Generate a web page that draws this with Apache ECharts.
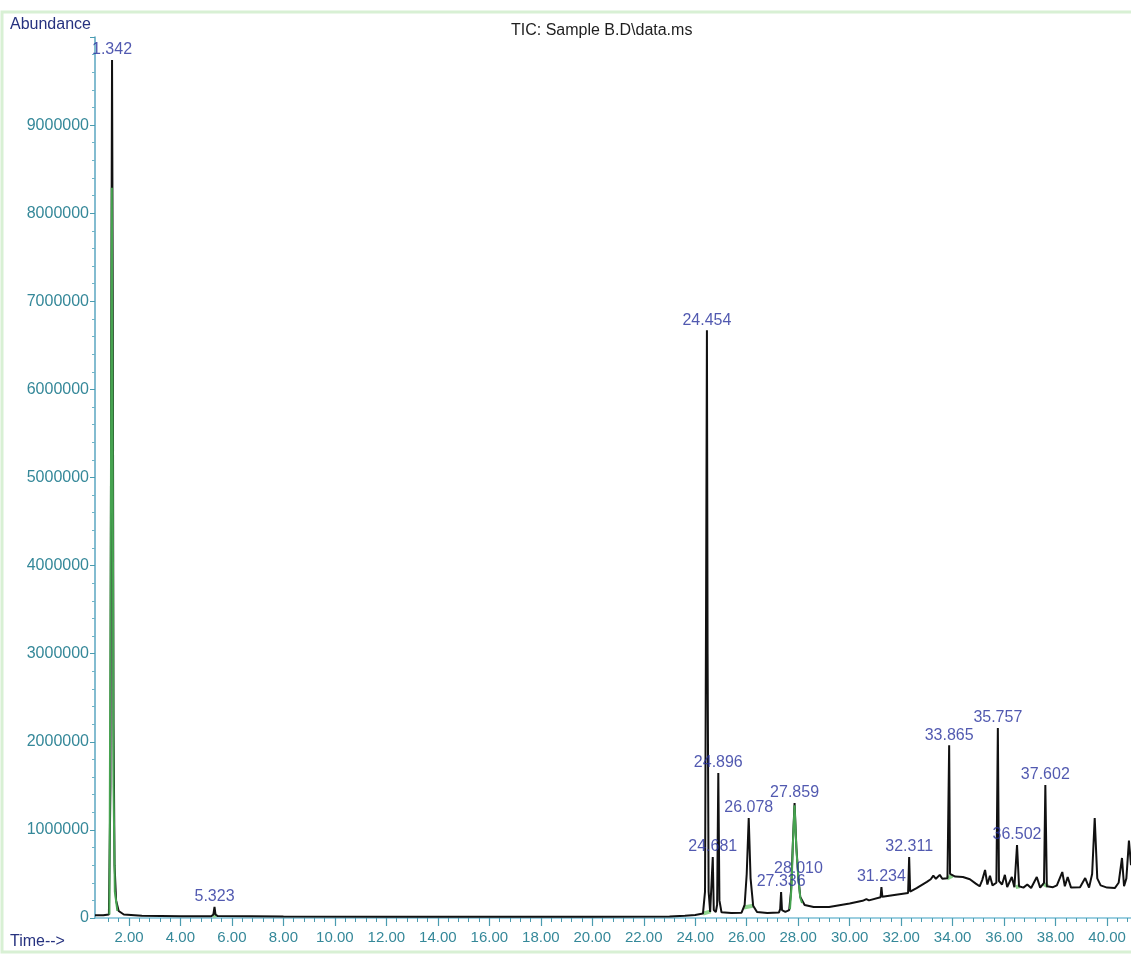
<!DOCTYPE html>
<html>
<head>
<meta charset="utf-8">
<script src="https://cdn.jsdelivr.net/npm/echarts@6/dist/echarts.min.js"></script>
<style>
html,body{margin:0;padding:0;background:#fff;}
#c{width:1131px;height:954px;}
</style>
</head>
<body>
<div id="c"></div>
<script>
// ---- data ----
var ticTrace = [
[0.68,30000],[1.00,30000],[1.22,40000],[1.28,1500000],[1.31,6500000],[1.342,9740000],
[1.37,7000000],[1.40,2200000],[1.44,600000],[1.50,200000],[1.60,80000],[1.80,40000],
[2.50,25000],[4.00,20000],[5.20,20000],[5.28,40000],[5.323,125000],[5.36,40000],[5.45,22000],
[8.00,18000],[12.00,15000],[16.00,15000],[20.00,15000],[23.00,18000],[23.60,25000],[24.00,35000],
[24.30,50000],[24.38,300000],[24.42,3500000],[24.454,6670000],[24.48,3000000],[24.52,300000],
[24.58,70000],[24.64,80000],[24.681,692000],[24.72,90000],[24.80,68000],[24.85,150000],
[24.896,1646000],[24.94,200000],[25.02,65000],[25.40,57000],[25.80,60000],[25.92,150000],
[26.00,500000],[26.078,1135000],[26.15,450000],[26.25,140000],[26.40,68000],[26.80,57000],
[27.25,62000],[27.30,100000],[27.336,295000],[27.37,90000],[27.50,70000],[27.65,90000],
[27.72,300000],[27.80,900000],[27.859,1305000],[27.93,800000],[28.010,450000],[28.08,240000],
[28.25,148000],[28.60,125000],[29.20,125000],[30.00,165000],[30.50,195000],[30.65,215000],
[30.75,200000],[31.20,235000],[31.234,352000],[31.27,240000],[31.80,265000],[32.27,285000],
[32.311,692000],[32.35,300000],[32.60,340000],[33.00,410000],[33.15,440000],[33.25,480000],
[33.35,445000],[33.50,490000],[33.60,445000],[33.80,450000],[33.865,1960000],[33.90,500000],
[34.10,470000],[34.40,465000],[34.67,440000],[34.90,390000],[35.05,360000],[35.15,430000],
[35.26,545000],[35.35,380000],[35.45,480000],[35.55,370000],[35.70,400000],[35.757,2157000],
[35.80,420000],[35.92,380000],[36.03,490000],[36.12,350000],[36.30,465000],[36.40,350000],
[36.502,829000],[36.58,360000],[36.75,345000],[36.90,380000],[37.05,340000],[37.27,465000],
[37.40,345000],[37.55,400000],[37.602,1510000],[37.66,360000],[37.90,350000],[38.05,370000],
[38.26,522000],[38.36,360000],[38.47,465000],[38.60,345000],[38.95,350000],[39.15,454000],
[39.30,345000],[39.42,500000],[39.52,1135000],[39.62,450000],[39.75,370000],[40.00,345000],
[40.30,340000],[40.45,400000],[40.58,681000],[40.66,360000],[40.75,450000],[40.85,880000],
[40.93,600000]
];

// integrated (green) peak traces
var greenPeak1 = [[1.24,40000],[1.30,5000000],[1.335,8290000],[1.36,6200000],[1.40,1500000],[1.45,300000],[1.55,80000]];
var greenPeak2 = [[27.68,100000],[27.74,350000],[27.80,880000],[27.859,1280000],[27.93,780000],[28.010,440000],[28.08,230000],[28.15,170000]];
var greenBase1 = [[24.30,50000],[24.60,75000]];
var greenBase2 = [[25.88,120000],[26.25,140000]];
var greenBase3 = [[33.78,450000],[34.00,480000]];
var greenBase4 = [[36.45,350000],[36.60,360000]];
var greenBase5 = [[37.52,390000],[37.70,360000]];
var greenBase6 = [[5.25,25000],[5.40,30000]];

// peak labels
var peakNames   = ['1.342','5.323','24.454','24.681','24.896','26.078','27.336','27.859','28.010','31.234','32.311','33.865','35.757','36.502','37.602'];
var peakTimes   = [1.342, 5.323, 24.454, 24.681, 24.896, 26.078, 27.336, 27.859, 28.010, 31.234, 32.311, 33.865, 35.757, 36.502, 37.602];
var peakHeights = [9740000,125000,6670000,692000,1646000,1135000,295000,1305000,450000,352000,692000,1960000,2157000,829000,1510000];

// axis ticks
var xMajorTicks = [2,4,6,8,10,12,14,16,18,20,22,24,26,28,30,32,34,36,38,40];
var xMinorStep = 0.4;

var X_MIN = 0.68, X_MAX = 40.93;
var xMinorTicks = [];
for (var i = 0; i < xMajorTicks.length; i++) {
  for (var k = -2; k <= 2; k++) {
    var v = +(xMajorTicks[i] + k * xMinorStep).toFixed(2);
    if (k !== 0 && v > X_MIN && v < X_MAX && xMinorTicks.indexOf(v) < 0) xMinorTicks.push(v);
  }
}

var FONT = '"Liberation Sans", Arial, sans-serif';
var chart = echarts.init(document.getElementById('c'), null, {renderer: 'canvas'});

function greenSeries(d, z, w, col) {
  return {type: 'line', data: d, xAxisIndex: 0, yAxisIndex: 0, showSymbol: false, symbol: 'none',
    lineStyle: {color: col, width: w}, z: z, animation: false, silent: true};
}

var labelData = peakNames.map(function (n, i) { return {name: n, value: [peakTimes[i], peakHeights[i]]}; });

chart.setOption({
  backgroundColor: '#ffffff',
  animation: false,
  title: {
    text: 'TIC: Sample B.D\\data.ms',
    left: 506, top: 18,
    textStyle: {fontFamily: FONT, fontSize: 16, fontWeight: 'normal', color: '#1e1e1e'}
  },
  graphic: [
    {type: 'rect', silent: true, z: -10, shape: {x: 2, y: 12, width: 1140, height: 940},
      style: {fill: 'none', stroke: '#d8f0d4', lineWidth: 3}},
    {type: 'text', left: 10, top: 17, style: {text: 'Abundance', font: '16px ' + FONT, fill: '#26327f'}},
    {type: 'text', left: 10, top: 934, style: {text: 'Time-->', font: '16px ' + FONT, fill: '#26327f'}}
  ],
  grid: {left: 95, right: 0, top: 37, bottom: 36, containLabel: false},
  xAxis: [
    {
      type: 'value', min: X_MIN, max: X_MAX, gridIndex: 0, position: 'bottom',
      axisLine: {show: true, onZero: false, lineStyle: {color: '#7cc0d6', width: 1.5}},
      axisTick: {show: true, customValues: xMajorTicks, length: 8, lineStyle: {color: '#4a9cb0', width: 1.2}},
      axisLabel: {show: true, customValues: xMajorTicks, margin: 12, fontFamily: FONT, fontSize: 15, color: '#358899',
        formatter: function (v) { return v.toFixed(2); }},
      splitLine: {show: false}
    },
    {
      type: 'value', min: X_MIN, max: X_MAX, gridIndex: 0, position: 'bottom',
      axisLine: {show: false},
      axisTick: {show: true, customValues: xMinorTicks, length: 4, lineStyle: {color: '#4a9cb0', width: 1}},
      axisLabel: {show: false},
      splitLine: {show: false}
    }
  ],
  yAxis: {
    type: 'value', min: 0, max: 10000000, interval: 1000000,
    axisLine: {show: true, lineStyle: {color: '#5aa6c0', width: 1.5}},
    axisTick: {show: true, length: 5, lineStyle: {color: '#4a9cb0'}},
    minorTick: {show: true, splitNumber: 5, length: 3, lineStyle: {color: '#6fb3c6'}},
    axisLabel: {margin: 6, fontFamily: FONT, fontSize: 16, color: '#358899',
      formatter: function (v) { return v >= 10000000 ? '' : String(v); }},
    splitLine: {show: false}
  },
  series: [
    greenSeries(greenBase1, 1, 4, '#8fd48f'),
    greenSeries(greenBase2, 1, 4, '#8fd48f'),
    greenSeries(greenBase3, 1, 4, '#8fd48f'),
    greenSeries(greenBase4, 1, 4, '#8fd48f'),
    greenSeries(greenBase5, 1, 4, '#8fd48f'),
    greenSeries(greenBase6, 1, 4, '#8fd48f'),
    {
      type: 'line', data: ticTrace, showSymbol: false, symbol: 'none',
      lineStyle: {color: '#111111', width: 2}, z: 2, animation: false, silent: true
    },
    greenSeries(greenPeak1, 3, 2, '#46a350'),
    greenSeries(greenPeak2, 3, 2, '#46a350'),
    {
      type: 'scatter', data: labelData, symbolSize: 0, z: 5, silent: true,
      label: {show: true, position: 'top', distance: 2, fontFamily: FONT, fontSize: 16, color: '#262f9c',
        formatter: function (p) { return p.name; }}
    }
  ]
});
</script>
</body>
</html>
